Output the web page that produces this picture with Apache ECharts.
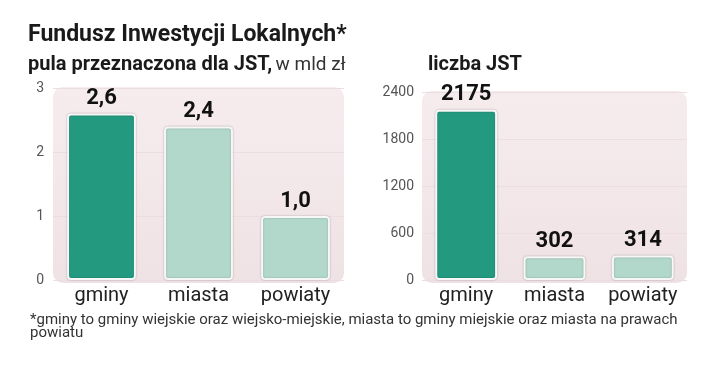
<!DOCTYPE html>
<html>
<head>
<meta charset="utf-8">
<script src="https://cdn.jsdelivr.net/npm/echarts@6/dist/echarts.min.js"></script>
<style>
  html, body { margin: 0; padding: 0; background: #fff; }
  #chart { width: 720px; height: 376px; }
</style>
</head>
<body>
<div id="chart"></div>
<script>
	// dane
	var categories = ['gminy', 'miasta', 'powiaty'];
	var pulaValues = [2.6, 2.4, 1.0];      // mld zł
	var liczbaValues = [2175, 302, 314];   // liczba JST
	var pulaTicks = [0, 1, 2, 3];
	var liczbaTicks = [0, 600, 1200, 1800, 2400];

	var darkColor = '#239a80';
	var lightColor = '#b2d8cb';
	var font = 'Roboto';

	function barData(values){
		var out = [];
		for (var i = 0; i < values.length; i++) {
			out.push({
				value: values[i],
				itemStyle: { color: i == 0 ? darkColor : lightColor }
			});
		}
		return out;
	}

	var plotBg = {
		type: 'linear', x: 0, y: 0, x2: 0, y2: 1,
		colorStops: [{ offset: 0, color: '#f6ecee' }, { offset: 1, color: '#efe2e5' }]
	};

	var myEchart = echarts.init(document.getElementById('chart'));
	var option = {
		animation: false,
		textStyle: { fontFamily: font },
		graphic: [
			{ type: 'rect', left: 53, top: 87, z: -10,
			  shape: { width: 291, height: 196, r: 10 }, style: { fill: plotBg } },
			{ type: 'rect', left: 422, top: 91, z: -10,
			  shape: { width: 265, height: 192, r: 10 }, style: { fill: plotBg } },
			{ type: 'text', left: 28, top: 24,
			  style: { text: 'Fundusz Inwestycji Lokalnych*', fill: '#1a1a1a',
			           font: 'bold 23px ' + font } },
			{ type: 'text', left: 28, top: 55,
			  style: { text: '{b|pula przeznaczona dla JST,} {n|w mld zł}',
			           rich: {
			           	b: { fill: '#1a1a1a', font: 'bold 20px ' + font },
			           	n: { fill: '#333', font: '19px ' + font }
			           } } },
			{ type: 'text', left: 428, top: 55,
			  style: { text: 'liczba JST', fill: '#1a1a1a', font: 'bold 20px ' + font } },
			{ type: 'text', left: 30, top: 313,
			  style: { text: '*gminy to gminy wiejskie oraz wiejsko-miejskie, miasta to gminy miejskie oraz miasta na prawach\npowiatu',
			           fill: '#333', font: '15px ' + font, lineHeight: 13 } }
		],
		grid: [
			{ left: 53, width: 291, top: 88, height: 192 },
			{ left: 422, width: 265, top: 92, height: 188 }
		],
		xAxis: [
			{ type: 'category', gridIndex: 0, data: categories,
			  axisLine: { show: false }, axisTick: { show: false },
			  axisLabel: { color: '#222', fontSize: 20, margin: 6, interval: 0 } },
			{ type: 'category', gridIndex: 1, data: categories,
			  axisLine: { show: false }, axisTick: { show: false },
			  axisLabel: { color: '#222', fontSize: 20, margin: 6, interval: 0 } }
		],
		yAxis: [
			{ type: 'value', gridIndex: 0, min: pulaTicks[0], max: pulaTicks[pulaTicks.length - 1], interval: 1,
			  axisLine: { show: false }, axisTick: { show: false },
			  axisLabel: { color: '#555', fontSize: 14, margin: 9 },
			  splitLine: { lineStyle: { color: '#ecdde0', width: 1 } } },
			{ type: 'value', gridIndex: 1, min: liczbaTicks[0], max: liczbaTicks[liczbaTicks.length - 1], interval: 600,
			  axisLine: { show: false }, axisTick: { show: false },
			  axisLabel: { color: '#555', fontSize: 14, margin: 8,
			               formatter: function(v){ return String(v); } },
			  splitLine: { lineStyle: { color: '#ecdde0', width: 1 } } }
		],
		series: [
			{
				name: 'pula', type: 'bar', xAxisIndex: 0, yAxisIndex: 0,
				barWidth: '71%',
				data: barData(pulaValues),
				itemStyle: { borderColor: '#f7f7f7', borderWidth: 2, borderRadius: 3,
				             shadowColor: 'rgba(0,0,0,0.25)', shadowBlur: 2 },
				label: { show: true, position: 'top', distance: 4, color: '#111',
				         fontSize: 22, fontWeight: 'bold',
				         formatter: function(p){ return p.value.toFixed(1).replace('.', ','); } }
			},
			{
				name: 'liczba', type: 'bar', xAxisIndex: 1, yAxisIndex: 1,
				barWidth: '70%',
				data: barData(liczbaValues),
				itemStyle: { borderColor: '#f7f7f7', borderWidth: 2, borderRadius: 3,
				             shadowColor: 'rgba(0,0,0,0.25)', shadowBlur: 2 },
				label: { show: true, position: 'top', distance: 4, color: '#111',
				         fontSize: 22, fontWeight: 'bold' }
			}
		]
	};
	myEchart.setOption(option);
</script>
</body>
</html>
